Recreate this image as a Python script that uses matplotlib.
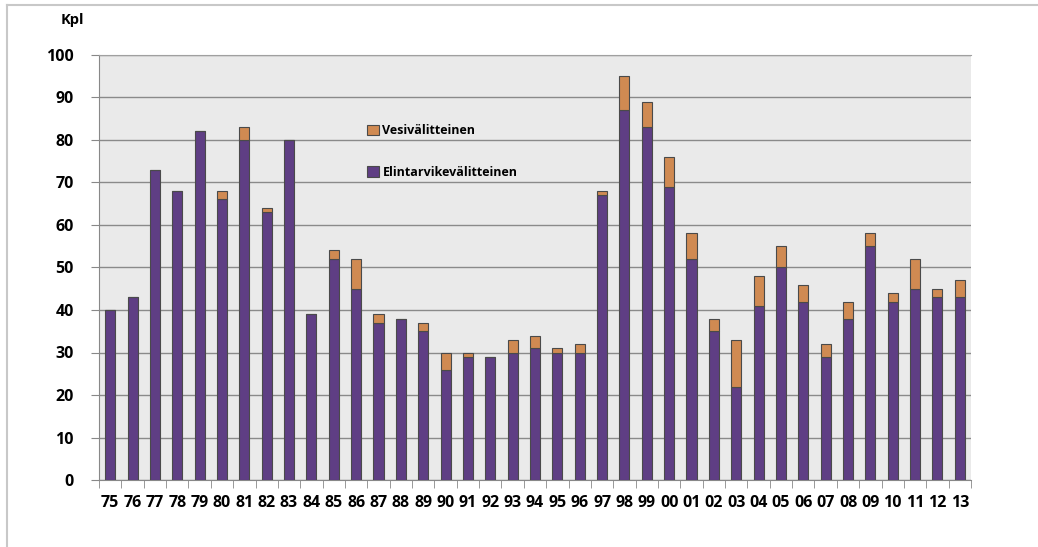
import matplotlib
matplotlib.use("Agg")
import matplotlib.pyplot as plt
import numpy as np

years = ["75","76","77","78","79","80","81","82","83","84","85","86","87","88","89",
         "90","91","92","93","94","95","96","97","98","99","00","01","02","03","04",
         "05","06","07","08","09","10","11","12","13"]
elintarvike = [40,43,73,68,82,66,80,63,80,39,52,45,37,38,35,26,29,29,30,31,30,30,67,87,83,
               69,52,35,22,41,50,42,29,38,55,42,45,43,43]
vesi = [0,0,0,0,0,2,3,1,0,0,2,7,2,0,2,4,1,0,3,3,1,2,1,8,6,7,6,3,11,7,5,4,3,4,3,2,7,2,4]
yticks = list(range(0, 101, 10))

plt.rcParams['font.family'] = ['Open Sans', 'DejaVu Sans']
fig = plt.figure(figsize=(10.38, 5.47), dpi=100)
# outer border (only top and left visible)
fig.add_artist(plt.Line2D([7/1038, 7/1038], [0, 1 - 5/547], transform=fig.transFigure,
                          color="#c8c8c8", linewidth=1.5))
fig.add_artist(plt.Line2D([7/1038, 1], [1 - 5/547, 1 - 5/547], transform=fig.transFigure,
                          color="#c8c8c8", linewidth=1.5))
ax = fig.add_axes([99/1038, 67/547, 872/1038, 425/547])
ax.set_facecolor("#eaeaea")

x = np.arange(len(years))
w = 0.45
ax.bar(x, elintarvike, width=w, color="#5f3e84", edgecolor="#4a4a4a", linewidth=0.8,
       label="Elintarvikevälitteinen", zorder=3)
ax.bar(x, vesi, width=w, bottom=elintarvike, color="#d08a52", edgecolor="#4a4a4a",
       linewidth=0.8, label="Vesivälitteinen", zorder=3)

ax.set_xlim(-0.5, len(years) - 0.5)
ax.set_ylim(0, 100)
ax.set_yticks(yticks)
ax.set_yticklabels([str(t) for t in yticks], fontsize=11.5, fontweight="bold")
ax.set_xticks(x)
ax.set_xticklabels(years, fontsize=11.5, fontweight="bold")
ax.tick_params(axis="x", length=0, pad=11)
ax.set_xticks(np.arange(-0.5, len(years), 1), minor=True)
ax.tick_params(axis="x", which="minor", length=6, color="#888888", direction="out")
ax.tick_params(axis="y", length=6, color="#888888", direction="out", pad=12)
ax.grid(axis="y", color="#8a8a8a", linewidth=1.0, zorder=1)
ax.spines["right"].set_visible(False)
ax.spines["top"].set_color("#a0a0a0")
ax.spines["left"].set_color("#888888")
ax.spines["bottom"].set_color("#888888")

handles, labels = ax.get_legend_handles_labels()
leg = ax.legend(handles[::-1], labels[::-1], loc="upper left", bbox_to_anchor=(0.295, 0.864),
                frameon=False, handlelength=0.9, handleheight=0.9, handletextpad=0.3,
                labelspacing=2.3, prop={"weight": "bold", "size": 9})

fig.text(72/1038, 1 - 20/547, "Kpl", fontsize=10.5, fontweight="bold", ha="center", va="center")
fig.savefig("out.png", dpi=100)
